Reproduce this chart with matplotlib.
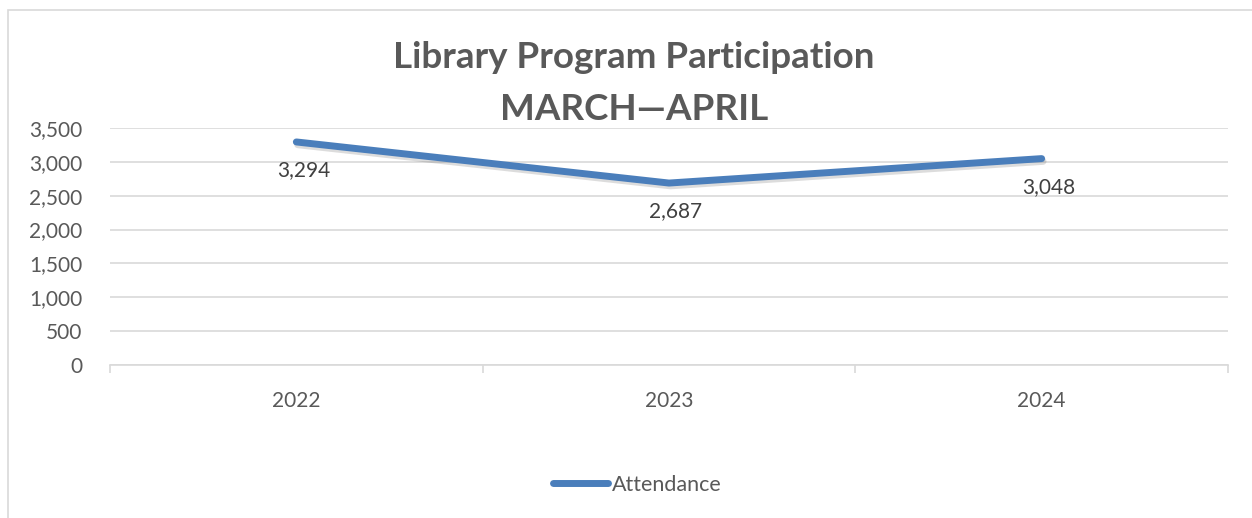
import matplotlib.pyplot as plt
import matplotlib.patheffects as pe
from matplotlib.lines import Line2D
from matplotlib.patches import Rectangle
from matplotlib.ticker import FuncFormatter, MultipleLocator

years = ['2022', '2023', '2024']
attendance = [3294, 2687, 3048]

W, H = 1252, 518
fig = plt.figure(figsize=(W / 100, H / 100), dpi=100)
plt.rcParams['font.family'] = ['Lato', 'DejaVu Sans']

# chart frame
fig.patches.append(Rectangle((8 / W, -0.1), 1.2, (H - 10) / H + 0.1,
                             transform=fig.transFigure, fill=False,
                             edgecolor='#d9d9d9', lw=1.2))

ax = fig.add_axes([110 / W, (H - 365) / H, 1118 / W, (365 - 128) / H])
x = range(len(years))
ax.plot(x, attendance, color='#4a7ebb', lw=5, solid_capstyle='round',
        path_effects=[pe.SimpleLineShadow(offset=(1, -2), alpha=0.18, shadow_color='#404040'),
                      pe.Normal()])
for xi, v in zip(x, attendance):
    ax.annotate(f'{v:,}', (xi, v), xytext=(7, -28), textcoords='offset pixels',
                ha='center', va='center', fontsize=15, color='#404040')

ax.set_xlim(-0.5, 2.5)
ax.set_ylim(0, 3500)
ax.yaxis.set_major_locator(MultipleLocator(500))
ax.yaxis.set_major_formatter(FuncFormatter(lambda v, p: f'{int(v):,}'))
ax.grid(axis='y', color='#d9d9d9', lw=1.2)
ax.set_axisbelow(True)
for s in ['top', 'right', 'left']:
    ax.spines[s].set_visible(False)
ax.spines['bottom'].set_color('#d9d9d9')
ax.spines['bottom'].set_linewidth(1.2)
ax.set_xticks([-0.5, 0.5, 1.5, 2.5])
ax.set_xticklabels([])
ax.set_xticks(list(x), minor=True)
ax.set_xticklabels(years, minor=True)
ax.tick_params(axis='x', which='major', length=6, color='#d9d9d9', width=1.2)
ax.tick_params(axis='x', which='minor', length=0, pad=19, labelsize=15,
               labelcolor='#595959')
ax.tick_params(axis='y', length=0, pad=20, labelsize=15, labelcolor='#595959')

fig.text(634 / W, 1 - 58 / H, 'Library Program Participation', ha='center',
         va='center', fontsize=26.5, fontweight='bold', color='#595959')
fig.text(634 / W, 1 - 109 / H, 'MARCH\u2014APRIL', ha='center',
         va='center', fontsize=26.5, fontweight='bold', color='#595959')

handle = Line2D([], [], color='#4a7ebb', lw=5, solid_capstyle='round')
fig.legend(handles=[handle], labels=['Attendance'], loc='center',
           bbox_to_anchor=(637 / W, 1 - 485 / H), frameon=False, fontsize=15.5,
           handlelength=2.6, handletextpad=0.15, labelcolor='#595959')

fig.savefig('out.png', dpi=100)
